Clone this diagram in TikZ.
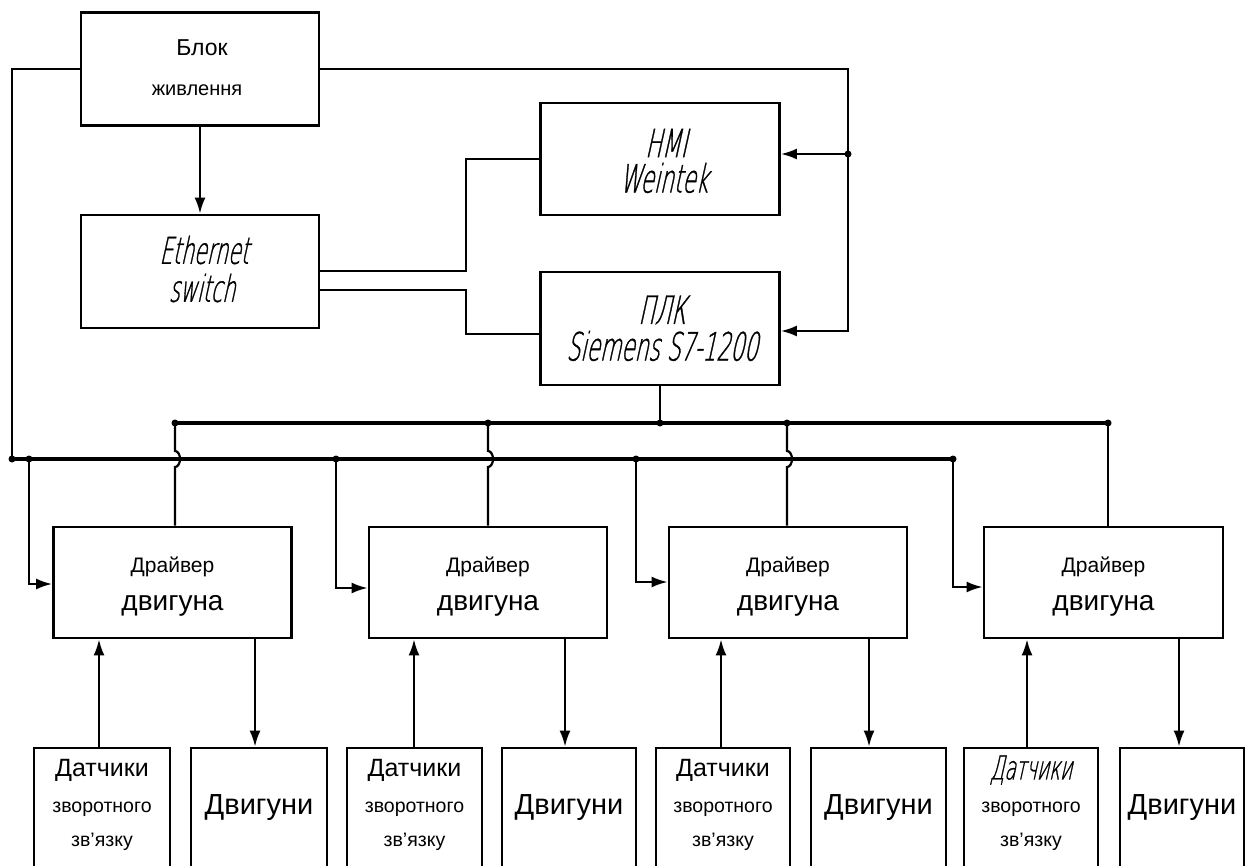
\documentclass[tikz,border=0pt]{standalone}
\usepackage{fontspec}
\setmainfont{Liberation Sans}
\newfontfamily\gost[FakeStretch=0.56,FakeSlant=0.22,FakeBold=0.8]{DejaVu Sans ExtraLight}
\usetikzlibrary{arrows.meta}
\newcommand{\fsz}[1]{\fontsize{#1}{#1}\selectfont}
\tikzset{
  blk/.style={draw, line width=2.8pt, inner sep=0pt, fill=white},
  conn/.style={line width=2.2pt},
  bus/.style={line width=4.5pt},
  arr/.style={conn, -{Latex[length=16pt,width=11pt]}},
  dotc/.style={circle, fill, inner sep=0pt, minimum size=7pt},
  lbl/.style={inner sep=0pt, anchor=center},
}
\begin{document}
\begin{tikzpicture}[x=1pt,y=-1pt]
\useasboundingbox (0,0) rectangle (1246,866);
\begin{scope}
\clip (0,0) rectangle (1246,866);

% ---------- top boxes ----------
\node[blk, minimum width=238pt, minimum height=113pt] (psu) at (200,69) {};
\node[lbl] (psut1) at (202,48) {\fsz{23}Блок};
\node[lbl] (psut2) at (197,90) {\fsz{20}живлення};

\node[blk, minimum width=238pt, minimum height=113pt] (sw) at (200,271.5) {};
\node[lbl] (swt1) at (204,250) {\gost\fsz{37}Ethernet};
\node[lbl] (swt2) at (202,288) {\gost\fsz{37}switch};

\node[blk, minimum width=239pt, minimum height=112pt] (hmi) at (660,159) {};
\node[lbl] (hmit1) at (666,143) {\gost\fsz{39}HMI};
\node[lbl] (hmit2) at (664,178) {\gost\fsz{39}Weintek};

\node[blk, minimum width=239pt, minimum height=113pt] (plc) at (660,328.5) {};
\node[lbl] (plct1) at (662,310) {\gost\fsz{39}ПЛК};
\node[lbl] (plct2) at (662,346) {\gost\fsz{39}Siemens S7-1200};

% ---------- drivers ----------
\foreach \n/\cx/\w in {1/172.5/238, 2/488/238, 3/788/238, 4/1103.5/239}{
  \node[blk, minimum width=\w pt, minimum height=111pt] (d\n) at (\cx,582.5) {};
  \node[lbl] (d\n a) at (\cx,567) {\fsz{21}Драйвер};
  \node[lbl] (d\n b) at (\cx,606) {\fsz{28}двигуна};
}

% ---------- sensors and motors ----------
\foreach \n/\cx/\w in {1/102/136, 2/414.5/135, 3/723/134, 4/1031/134}{
  \node[blk, minimum width=\w pt, minimum height=140pt] (s\n) at (\cx,818) {};
  \node[lbl] (s\n c) at (\cx,809) {\fsz{19.5}зворотного};
  \node[lbl] (s\n d) at (\cx,842) {\fsz{19.5}зв'язку};
}
\foreach \n in {1,2,3}{
  \node[lbl] (s\n a) at (s\n |- 0,770) {\fsz{25}Датчики};
}
\node[lbl] (s4a) at (1031,770) {\gost\fsz{33}Датчики};

\foreach \n/\cx/\w in {1/259/136, 2/569/134, 3/878.5/135, 4/1182/124}{
  \node[blk, minimum width=\w pt, minimum height=140pt] (m\n) at (\cx,818) {};
  \node[lbl] (m\n a) at (\cx,808) {\fsz{29}Двигуни};
}

% ---------- coordinates ----------
\coordinate (lt) at (12,69);
\coordinate (lb) at (12,459);
\coordinate (rt) at (848,69);
\coordinate (rh) at (848,154);
\coordinate (rp) at (848,331);
\coordinate (sw1) at (319,271);
\coordinate (sw2) at (319,290);
\coordinate (m1a) at (466,271);
\coordinate (m1b) at (466,159);
\coordinate (m2a) at (466,290);
\coordinate (m2b) at (466,334);
\coordinate (ub0) at (175,423);
\coordinate (ub1) at (1108,423);
\coordinate (lb1) at (953,459);
\coordinate (pj) at (660,423);

% ---------- power ----------
\draw[conn] (psu.west |- lt) -- (lt) -- (lb);
\draw[arr] (psu.east |- rt) -- (rt) -- (rp) -- (plc.east |- rp);
\draw[arr] (rh) -- (hmi.east |- rh);
\node[dotc] (rhd) at (rh) {};
\draw[arr] (psu.south) -- (sw.north);

% ---------- ethernet ----------
\draw[conn] (sw1) -- (m1a) -- (m1b) -- (hmi.west |- m1b);
\draw[conn] (sw2) -- (m2a) -- (m2b) -- (plc.west |- m2b);

% ---------- buses ----------
\draw[bus] (ub0) -- (ub1);
\draw[bus] (lb) -- (lb1);
\draw[conn] (plc.south) -- (pj);
\foreach \x in {175,488,660,787,1108}{\node[dotc] at (\x,423) {};}
\foreach \x in {12,29,336,636,953}{\node[dotc] at (\x,459) {};}

% upper bus drops with jumps over lower bus
\foreach \x/\d in {175/d1,488/d2,787/d3}{
  \draw[conn] (\x,423) -- (\x,451) arc[start angle=-90, end angle=90, x radius=5pt, y radius=-8pt] -- (\x,467) -- (\d.north -| \x,0);
}
\draw[conn] (1108,423) -- (d4.north -| 1108,0);

% lower bus drops into drivers
\draw[arr] (29,459) -- (29,584) -- (d1.west |- 0,584);
\draw[arr] (336,459) -- (336,588) -- (d2.west |- 0,588);
\draw[arr] (636,459) -- (636,582) -- (d3.west |- 0,582);
\draw[arr] (953,459) -- (953,587) -- (d4.west |- 0,587);

% sensors -> drivers, drivers -> motors
\foreach \n/\sx/\mx in {1/99/255, 2/414/565, 3/721/869, 4/1027/1179}{
  \draw[arr] (s\n.north -| \sx,0) -- (d\n.south -| \sx,0);
  \draw[arr] (d\n.south -| \mx,0) -- (m\n.north -| \mx,0);
}
\end{scope}
\end{tikzpicture}
\end{document}
